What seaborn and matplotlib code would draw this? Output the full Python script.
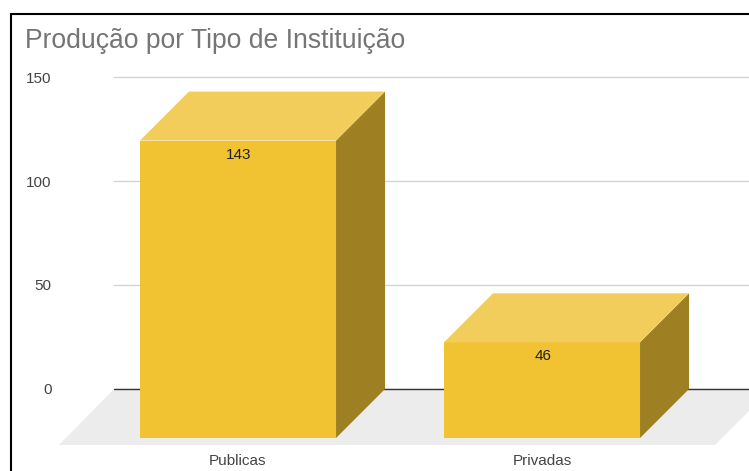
import matplotlib
matplotlib.use("Agg")
import matplotlib.pyplot as plt
import seaborn as sns
from matplotlib.lines import Line2D
from matplotlib.patches import Polygon

tipos = ["Publicas", "Privadas"]
producao = [143, 46]
ticks_y = [0, 50, 100, 150]

sns.set_theme(style="white")
plt.rcParams["font.family"] = ["Liberation Sans", "DejaVu Sans"]

W, H = 749, 471
fig = plt.figure(figsize=(W / 100, H / 100), dpi=100)

# Eixo cobre so a area do grafico (em pixels da imagem)
esq, dir_, topo, base = 114, 749, 77, 445
ax = fig.add_axes([esq / W, 1 - base / H, (dir_ - esq) / W, (base - topo) / H])

sns.barplot(x=tipos, y=producao, color="#f1c232", saturation=1, width=0.645, ax=ax,
            zorder=3, linewidth=0, edgecolor="none")

# Escalas: 304 px entre categorias, 2.08 px por unidade
px_x = 304
px_y = (389 - topo) / 150
ax.set_xlim((esq - 238) / px_x, (dir_ - 238) / px_x)
ax.set_ylim((389 - base) / px_y, 150)

# Profundidade do efeito 3D
dx = 49 / px_x
dy = 49 / px_y

# Grid
ax.set_yticks(ticks_y)
ax.yaxis.grid(True, color="#d4d4d4", lw=1.0, zorder=1)
ax.set_axisbelow(True)
for linha in ax.get_ygridlines():
    linha.set_clip_on(False)
ax.axhline(0, color="#333333", lw=1.0, zorder=2)

# Piso
y_base = ax.get_ylim()[0]
piso = [((esq - 238) / px_x, 0), ((771 - 238) / px_x, 0),
        ((715 - 238) / px_x, y_base), ((59 - 238) / px_x, y_base)]
ax.add_patch(Polygon(piso, closed=True, fc="#ececec", ec="none", zorder=1.5, clip_on=False))

# Laterais e tampo das barras
for barra, valor in zip(ax.patches[:len(producao)], producao):
    barra.set_y(-dy)
    barra.set_height(valor)
    x0 = barra.get_x()
    x1 = x0 + barra.get_width()
    y0 = -dy
    y1 = y0 + valor
    lado = [(x1, y0), (x1 + dx, y0 + dy), (x1 + dx, y1 + dy), (x1, y1)]
    tampo = [(x0, y1), (x1, y1), (x1 + dx, y1 + dy), (x0 + dx, y1 + dy)]
    ax.add_patch(Polygon(lado, closed=True, fc="#9e7f21", ec="none", zorder=3))
    ax.add_patch(Polygon(tampo, closed=True, fc="#f3cd5b", ec="none", zorder=3))
    ax.annotate(str(valor), (x0 + barra.get_width() / 2, y1), xytext=(0.5, -10.2),
                textcoords="offset points", ha="center", va="center",
                fontsize=11, color="#222222", zorder=4)

sns.despine(ax=ax, left=True, bottom=True, top=True, right=True)
ax.tick_params(axis="y", length=0, pad=45, labelsize=11, labelcolor="#444444")
ax.tick_params(axis="x", length=0, pad=6.5, labelsize=11, labelcolor="#444444")

# Titulo
fig.text(25 / W, 1 - 40.5 / H, "Produção por Tipo de Instituição", fontsize=19.1,
         color="#757575", ha="left", va="center")

# Moldura preta
fig.add_artist(Line2D([10.5 / W, 10.5 / W], [0, 1 - 13.5 / H], color="black", lw=1.5))
fig.add_artist(Line2D([10.5 / W, 1], [1 - 13.5 / H, 1 - 13.5 / H], color="black", lw=1.5))

fig.savefig("out.png", dpi=100, facecolor="white")
